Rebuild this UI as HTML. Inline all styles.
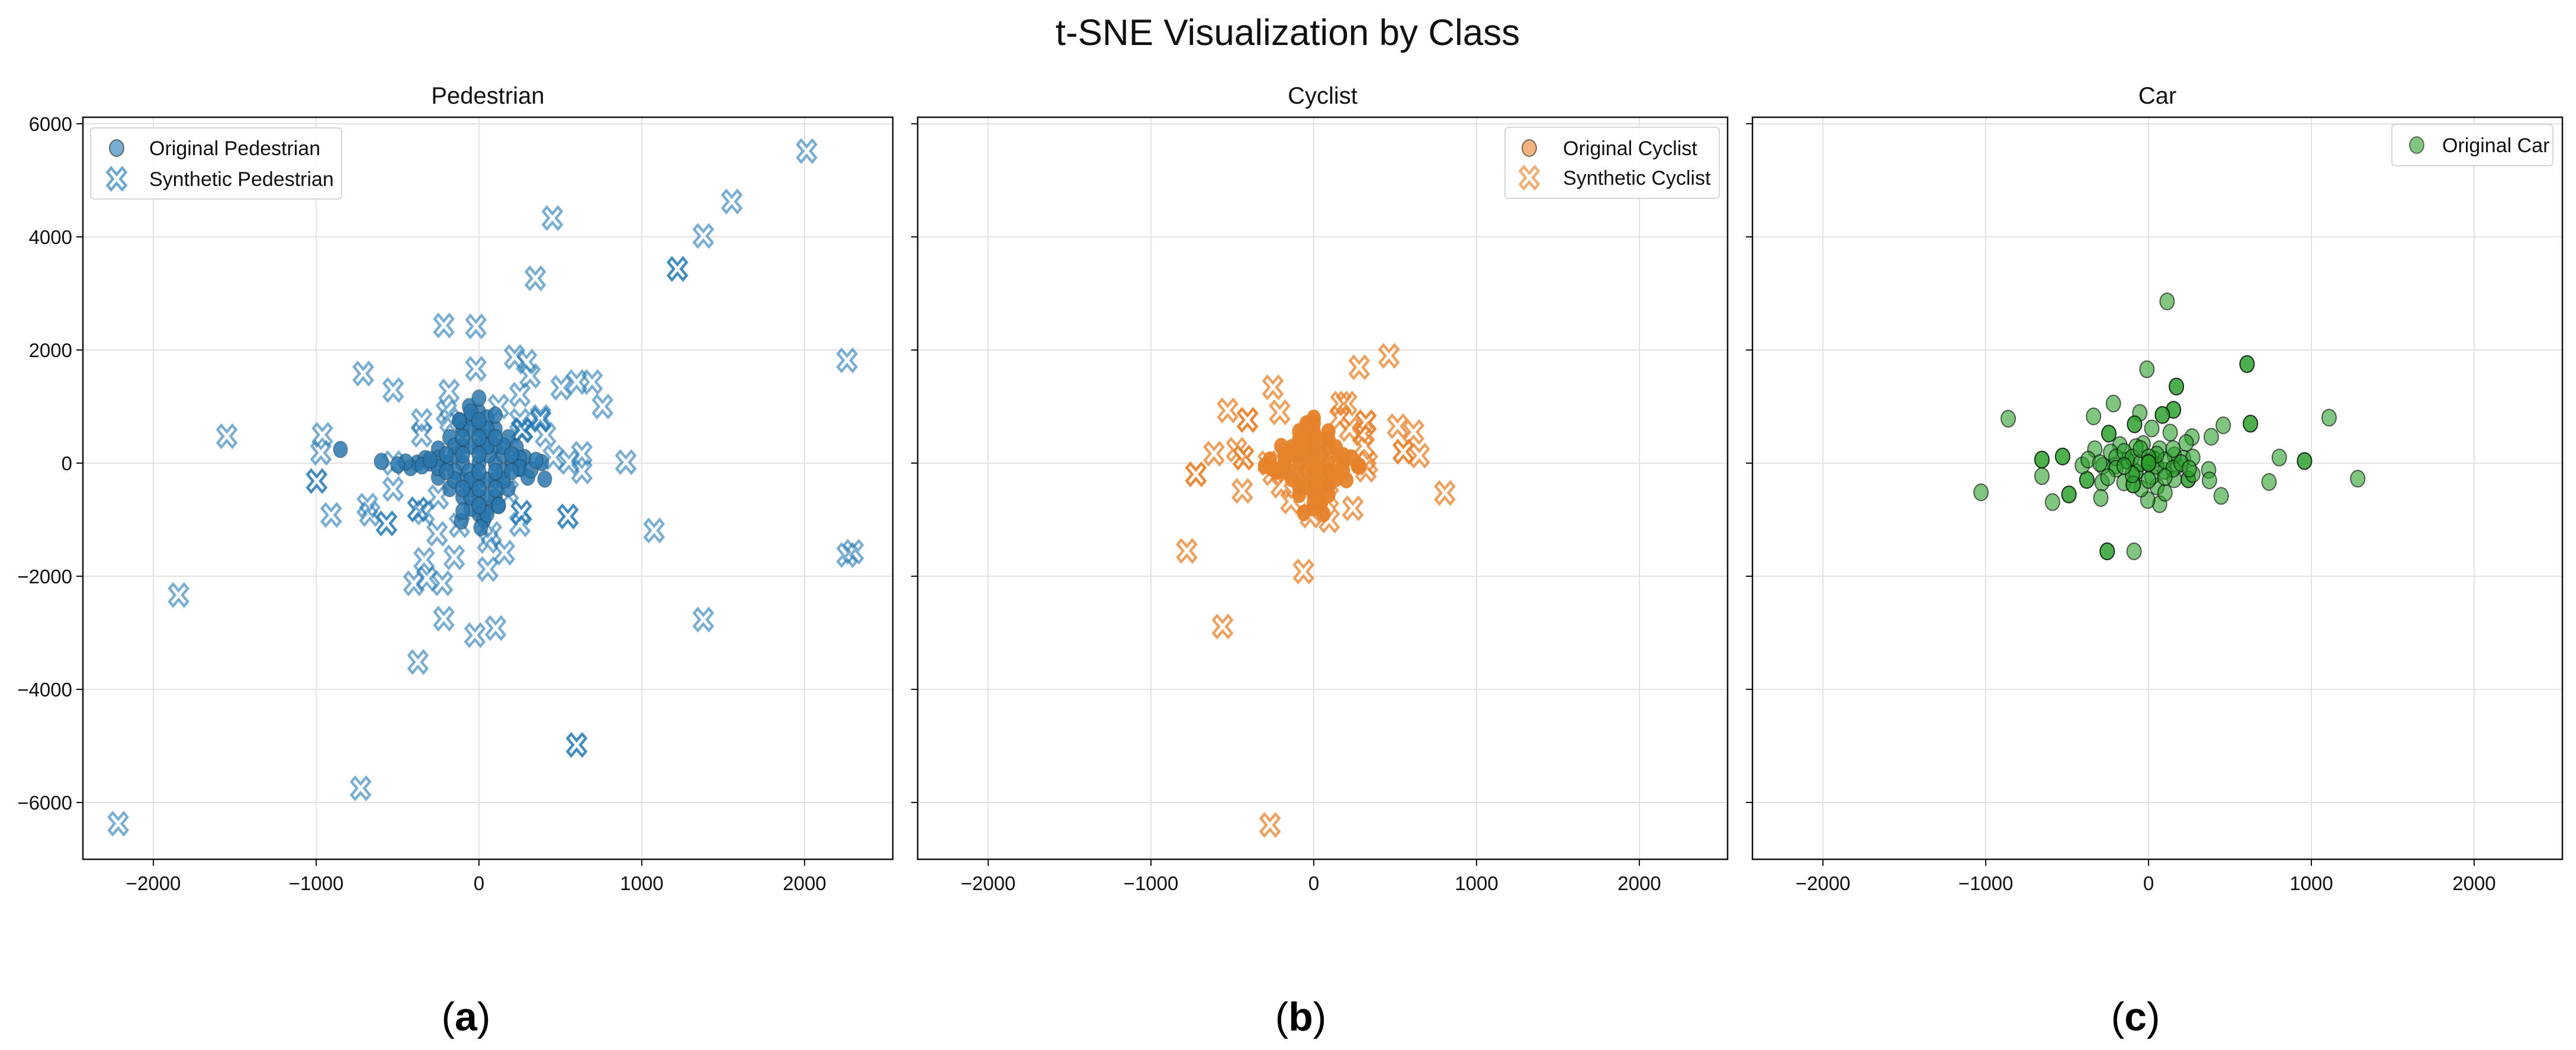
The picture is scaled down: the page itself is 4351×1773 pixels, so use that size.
<!DOCTYPE html>
<html><head><meta charset="utf-8"><title>t-SNE Visualization by Class</title>
<style>html,body{margin:0;padding:0;background:#fff}svg{display:block}text{font-family:"Liberation Sans",sans-serif}</style></head>
<body>
<svg id="fig" xmlns="http://www.w3.org/2000/svg" width="4351" height="1773" viewBox="0 0 4351 1773">
<text x="2175" y="76" font-size="62" text-anchor="middle" fill="#111">t-SNE Visualization by Class</text>
</svg>
<script>
// ---------- data ----------
const xTicks = [-2000, -1000, 0, 1000, 2000];
const yTicks = [-6000, -4000, -2000, 0, 2000, 4000, 6000];
const xTickLabels = ["\u22122000", "\u22121000", "0", "1000", "2000"];
const yTickLabels = ["\u22126000", "\u22124000", "\u22122000", "0", "2000", "4000", "6000"];
const panelTitles = ["Pedestrian", "Cyclist", "Car"];
const panelLetters = ["a", "b", "c"];

const pedOrigX = [0,100,-100,200,-200,0,0,0,0,0,0,100,-100,100,-100,100,-100,100,-100,150,-150,150,-150,50,-50,50,-50,-300,-380,-420,-330,250,280,300,-250,-250,180,-180,180,-180,50,-50,-60,30,-851,-109,11,385,404,-600,230,60,-60,0,120,-120,
 -250,-250,250,250,-50,50,-50,50,-150,150,-150,150,-50,50,-50,50,-100,100,-100,100,0,0,0,0,-100,100,-200,200,-200,200,-50,50,-120,120,0,0,-350,-300,-450,-500,320,350,-100,100];
const pedOrigY = [0,0,0,0,0,300,-300,600,-600,900,-900,300,300,-300,-300,600,600,-600,-600,150,150,-150,-150,800,800,-800,-800,0,0,-80,80,-100,100,-250,250,-250,450,450,-450,-450,450,-450,1000,-1000,241,-1026,-1141,10,-283,30,280,150,-150,1150,-750,750,
 80,-80,80,-80,300,300,-300,-300,300,300,-300,-300,600,600,-600,-600,450,450,-450,-450,450,-450,150,-150,150,-150,150,-150,-150,150,900,-900,750,-750,750,-750,-50,60,20,-30,-120,50,-850,850];
const pedSynX = [2013,1553,451,1378,1219,1219,346,-216,-19,2261,-711,219,292,314,-527,-184,-19,251,505,600,695,759,-1549,-962,-971,-997,-997,902,632,632,552,378,260,409,457,546,546,260,260,251,1076,2299,2261,-908,-686,-670,-568,-568,-375,-375,-527,-527,-337,-257,-152,-337,54,156,-400,-321,-225,-1845,-216,-25,102,-375,1378,600,600,-727,-2216,54,76,-352,-352,-178,251,267,267,378,378,-250,-120,180,120,-200];
const pedSynY = [5517,4625,4333,4017,3433,3433,3267,2433,2417,1817,1583,1875,1792,1542,1292,1267,1667,1208,1333,1433,1433,1000,475,500,183,-317,-317,17,167,-150,17,817,583,500,100,-942,-942,-875,-875,-1083,-1192,-1567,-1625,-917,-750,-900,-1067,-1067,-817,-817,-458,0,-875,-1250,-1667,-1708,-1875,-1583,-2125,-2042,-2125,-2333,-2750,-3042,-2917,-3517,-2767,-4983,-4983,-5750,-6375,-1375,-1250,750,500,750,750,583,583,767,767,-600,-1100,-500,1000,900];

const cycOrigX = [0,90,-90,180,-180,-250,0,0,0,0,0,0,90,-90,90,-90,90,-90,-90,90,150,-150,150,-150,230,-230,40,-40,-300,280,
 -45,45,-45,45,-135,135,-135,135,-45,45,-45,45,0,0,0,0,-90,90,-180,180,-180,180,-45,45,0,0,-90,90,90,-90,270,-270,200,-200,60,-60];
const cycOrigY = [0,0,0,0,0,-100,280,-280,560,-560,800,-800,280,280,-280,-280,560,-560,560,-560,150,-150,-150,150,100,-150,-700,650,-50,-50,
 140,140,-140,-140,280,280,-280,-280,420,420,-420,-420,140,-140,420,-420,140,-140,140,-140,-140,140,700,-700,700,-700,420,-420,420,-420,-50,60,-300,300,-900,-880];
const cycSynX = [462,279,-251,-529,-407,-407,-209,167,202,320,320,515,613,550,550,648,-613,-724,-724,-432,-432,-474,-439,805,90,95,-21,-780,-63,-560,-269,300,310,330,320,160,220,-280,-250,-200,-140,240];
const cycSynY = [1896,1694,1340,931,764,764,896,1052,1052,722,722,653,549,201,201,132,167,-198,-198,97,97,236,-493,-528,-597,-1014,-927,-1552,-1917,-2890,-6398,520,300,0,-120,800,600,0,-180,-400,-680,-800];

const carOrigX = [114,-10,605,605,171,171,-216,-338,-862,153,153,85,85,-54,-86,-86,-244,-244,459,626,626,1109,385,267,133,-655,-655,-528,-528,803,958,958,1285,-655,-379,-379,-407,-286,-489,-489,-590,-293,-1029,369,374,446,740,244,244,68,-5,-254,-254,-89,3,3,-130,-130,-33,-176,-233,-330,-371,-78,-78,52,-46,-151,101,174,215,272,272,158,20,68,-208,-281,-78,36,158,231,20,-94,-94,101,
 -200,-150,-100,-50,50,100,150,200,-100,0,100,-200,-250,50,-50,150,0,-150,250,-300,0,0];
const carOrigY = [2859,1659,1751,1751,1354,1354,1053,826,785,943,943,851,851,888,686,686,521,521,668,697,697,804,466,459,540,62,62,117,117,99,37,37,-275,-231,-297,-297,-40,-341,-554,-554,-690,-617,-517,-121,-305,-580,-334,-286,-286,-727,-653,-1560,-1560,-1560,26,26,44,44,338,319,191,246,62,-158,-158,-415,-451,-341,-139,-48,81,99,-194,-286,613,246,-48,-48,283,62,136,356,-231,-378,-378,-525,
 100,200,100,0,-50,50,-100,0,-200,-300,-250,-100,-250,150,250,250,100,-50,-100,0,0,0];

// ---------- layout ----------
const NS = "http://www.w3.org/2000/svg";
const svg = document.getElementById("fig");
const panelLeft = [140, 1550, 2960];
const PW = 1368, PT = 198, PB = 1451;
const XMIN = -2433, XMAX = 2542, YMIN = -7005, YMAX = 6115;
function xs(p, v) { return panelLeft[p] + (v - XMIN) / (XMAX - XMIN) * PW; }
function ys(v) { return PB - (v - YMIN) / (YMAX - YMIN) * (PB - PT); }
function mk(tag, attrs, parent) {
  const e = document.createElementNS(NS, tag);
  for (const k in attrs) e.setAttribute(k, attrs[k]);
  (parent || svg).appendChild(e);
  return e;
}
const crossPath = "M-0.5,-0.3 L-0.3,-0.5 L0,-0.2 L0.3,-0.5 L0.5,-0.3 L0.2,0 L0.5,0.3 L0.3,0.5 L0,0.2 L-0.3,0.5 L-0.5,0.3 L-0.2,0 Z";
function cross(g, cx, cy, color, op) {
  const e = mk("path", {d: crossPath, transform: `translate(${cx},${cy}) scale(31,37)`, fill: "none", stroke: color, "stroke-width": 0.13, "stroke-opacity": op}, g);
  
  
  return e;
}
function dot(g, cx, cy, color, op, edgeOp) {
  const e = mk("ellipse", {cx: cx, cy: cy, rx: 12, ry: 14, fill: color, "fill-opacity": op, stroke: "#000", "stroke-opacity": edgeOp, "stroke-width": 2}, g);
  
  
  return e;
}

for (let p = 0; p < 3; p++) {
  const g = mk("g", {});
  
  
  const L = panelLeft[p];
  xTicks.forEach(v => {
    const l = mk("line", {x1: xs(p, v), x2: xs(p, v), y1: PT, y2: PB, stroke: "#e3e3e3", "stroke-width": 2}, g);
    
    
  });
  yTicks.forEach(v => {
    const l = mk("line", {x1: L, x2: L + PW, y1: ys(v), y2: ys(v), stroke: "#e3e3e3", "stroke-width": 2}, g);
    
    
  });
  const dg = mk("g", {}, g);
  
  
  if (p === 0) {
    pedSynX.forEach((v, i) => cross(dg, xs(p, v), ys(pedSynY[i]), "#1f77b4", 0.6));
    pedOrigX.forEach((v, i) => dot(dg, xs(p, v), ys(pedOrigY[i]), "#2a77ad", 0.85, 0.2));
  } else if (p === 1) {
    cycSynX.forEach((v, i) => cross(dg, xs(p, v), ys(cycSynY[i]), "#e8812a", 0.75));
    cycOrigX.forEach((v, i) => dot(dg, xs(p, v), ys(cycOrigY[i]), "#e6822a", 0.95, 0.0));
  } else {
    carOrigX.forEach((v, i) => dot(dg, xs(p, v), ys(carOrigY[i]), "#2ca02c", 0.6, 0.6));
  }
  const fr = mk("rect", {x: L, y: PT, width: PW, height: PB - PT, fill: "none", stroke: "#111", "stroke-width": 2.5}, g);
  
  
  xTicks.forEach((v, i) => {
    const t = mk("line", {x1: xs(p, v), x2: xs(p, v), y1: PB, y2: PB + 11, stroke: "#111", "stroke-width": 2}, g);
    
    
    const tx = mk("text", {x: xs(p, v), y: PB + 52, "font-size": 33, "text-anchor": "middle", fill: "#111"}, g);
    tx.textContent = xTickLabels[i];
    
    
  });
  yTicks.forEach((v, i) => {
    const t = mk("line", {x1: L - 11, x2: L, y1: ys(v), y2: ys(v), stroke: "#111", "stroke-width": 2}, g);
    
    
    if (p === 0) {
      const tx = mk("text", {x: L - 18, y: ys(v) + 12, "font-size": 33, "text-anchor": "end", fill: "#111"}, g);
      tx.textContent = yTickLabels[i];
      
      
    }
  });
  const tt = mk("text", {x: L + PW / 2, y: 175, "font-size": 40, "text-anchor": "middle", fill: "#111"}, g);
  tt.textContent = panelTitles[p];
  
  
  const lt = mk("text", {x: xs(p, 0) - 22, y: 1740, "font-size": 68, "text-anchor": "middle", fill: "#000", "font-family": "Liberation Serif, serif"}, g);
  lt.innerHTML = '(<tspan font-weight="bold">' + panelLetters[p] + '</tspan>)';
  
  
}

function legend(box, rows) {
  const g = mk("g", {});
  
  
  mk("rect", {x: box[0], y: box[1], width: box[2], height: box[3], rx: 6, fill: "#fff", "fill-opacity": 0.85, stroke: "#d6d6d6", "stroke-width": 2}, g);
  rows.forEach(r => {
    let m;
    if (r.kind === "dot") {
      m = mk("ellipse", {cx: r.mx, cy: r.y, rx: 12, ry: 14, fill: r.color, "fill-opacity": 0.6, stroke: "#000", "stroke-opacity": 0.5, "stroke-width": 2}, g);
    } else {
      m = mk("path", {d: crossPath, transform: `translate(${r.mx},${r.y}) scale(31,37)`, fill: "none", stroke: r.color, "stroke-width": 0.13, "stroke-opacity": 0.65}, g);
    }
    
    
    const t = mk("text", {x: r.tx, y: r.y + 12, "font-size": 34, fill: "#111"}, g);
    t.textContent = r.label;
    
    
  });
}
legend([153, 216, 424, 120], [
  {kind: "dot", mx: 197, tx: 252, y: 250, color: "#1f77b4", label: "Original Pedestrian"},
  {kind: "x", mx: 197, tx: 252, y: 302, color: "#1f77b4", label: "Synthetic Pedestrian"}]);
legend([2542, 215, 362, 120], [
  {kind: "dot", mx: 2583, tx: 2640, y: 250, color: "#e8812a", label: "Original Cyclist"},
  {kind: "x", mx: 2583, tx: 2640, y: 300, color: "#e8812a", label: "Synthetic Cyclist"}]);
legend([4040, 210, 272, 70], [
  {kind: "dot", mx: 4082, tx: 4125, y: 245, color: "#2ca02c", label: "Original Car"}]);
</script>
</body></html>
